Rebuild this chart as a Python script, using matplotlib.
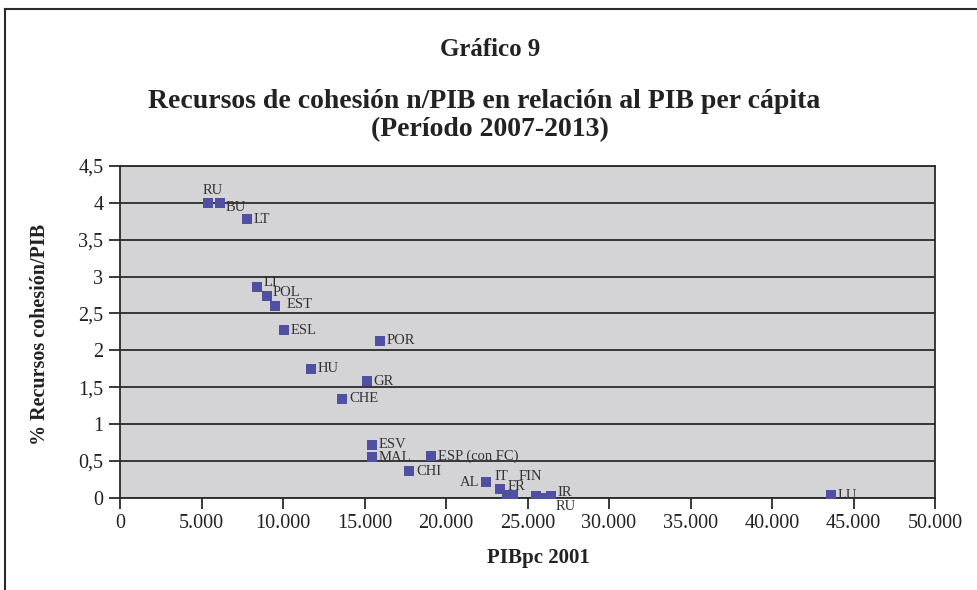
import matplotlib.pyplot as plt
from matplotlib.lines import Line2D
from matplotlib.ticker import FuncFormatter, MultipleLocator

plt.rcParams['font.family'] = ['Liberation Serif', 'DejaVu Serif']

# PIB per cápita 2001 and cohesion resources / PIB (%)
labels = ['RU', 'BU', 'LT', 'LI', 'POL', 'EST', 'ESL', 'POR', 'HU', 'GR', 'CHE',
          'ESV', 'MAL', 'ESP (con FC)', 'CHI', 'AL', 'IT', 'FR', 'FIN', '', 'RU', 'IR', 'LU']
pibpc = [5400, 6130, 7790, 8390, 9020, 9510, 10060, 15950, 11720, 15130, 13620,
         15460, 15460, 19080, 17730, 22450, 23310, 23720, 24110, 25520, 25950, 26420, 43620]
recursos = [4.0, 4.0, 3.78, 2.86, 2.73, 2.6, 2.27, 2.13, 1.75, 1.58, 1.34,
            0.72, 0.55, 0.56, 0.36, 0.21, 0.12, 0.04, 0.04, 0.02, 0.0, 0.02, 0.03]

# label offsets (points) and alignment
offsets = {0: (-4, 9, 'left'), 1: (4, -3, 'left'), 3: (5, 3, 'left'), 4: (4, 3, 'left'),
           5: (8, 1, 'left'), 15: (-5, 0, 'right'), 16: (-4, 9, 'left'),
           17: (1, 6, 'left'), 18: (4, 13, 'left'), 20: (9, -6, 'left'), 21: (5, 3, 'left')}

fig = plt.figure(figsize=(9.77, 5.90), dpi=100)
ax = fig.add_axes([120 / 977, 1 - 497.7 / 590, 815 / 977, 331.7 / 590])
ax.set_facecolor('#d4d4d6')

ax.scatter(pibpc, recursos, marker='s', s=52, color='#5050a2', zorder=3, linewidths=0)
for i, (lab, x, y) in enumerate(zip(labels, pibpc, recursos)):
    dx, dy, ha = offsets.get(i, (5, 0, 'left'))
    ax.annotate(lab, (x, y), xytext=(dx, dy), textcoords='offset points',
                ha=ha, va='center', fontsize=10.5, color='#333333', zorder=4)

ax.set_xlim(0, 50000)
ax.set_ylim(0, 4.5)
ax.xaxis.set_major_locator(MultipleLocator(5000))
ax.yaxis.set_major_locator(MultipleLocator(0.5))
ax.xaxis.set_major_formatter(FuncFormatter(lambda v, p: f'{int(v):,}'.replace(',', '.')))
ax.yaxis.set_major_formatter(FuncFormatter(lambda v, p: f'{v:g}'.replace('.', ',')))
ax.grid(axis='y', color='#2a2a2a', linewidth=1.3)
ax.set_axisbelow(True)
for sp in ax.spines.values():
    sp.set_color('#2a2a2a')
    sp.set_linewidth(1.3)
ax.tick_params(axis='both', direction='out', length=8, width=1.3, color='#2a2a2a',
               labelsize=14.5, labelcolor='#222222', pad=4)

# axis titles
fig.text(538 / 977, 1 - 558 / 590, 'PIBpc 2001', ha='center', va='center',
         fontsize=15, fontweight='bold', color='#222222')
fig.text(40 / 977, 1 - 334 / 590, '% Recursos cohesión/PIB', ha='center', va='center',
         rotation=90, fontsize=14.5, fontweight='bold', color='#222222')

# titles
fig.text(490 / 977, 1 - 50 / 590, 'Gráfico 9', ha='center', va='center',
         fontsize=18, fontweight='bold', color='#222222')
fig.text(484 / 977, 1 - 102 / 590, 'Recursos de cohesión n/PIB en relación al PIB per cápita',
         ha='center', va='center', fontsize=20, fontweight='bold', color='#222222')
fig.text(490 / 977, 1 - 130 / 590, '(Período 2007-2013)',
         ha='center', va='center', fontsize=20, fontweight='bold', color='#222222')

# outer frame (top and left edges visible)
fig.add_artist(Line2D([5 / 977, 5 / 977], [0, 1 - 9 / 590], transform=fig.transFigure,
                      color='#2a2a2a', linewidth=1.5))
fig.add_artist(Line2D([5 / 977, 1], [1 - 9 / 590, 1 - 9 / 590], transform=fig.transFigure,
                      color='#2a2a2a', linewidth=1.5))

fig.savefig('out.png', dpi=100)
